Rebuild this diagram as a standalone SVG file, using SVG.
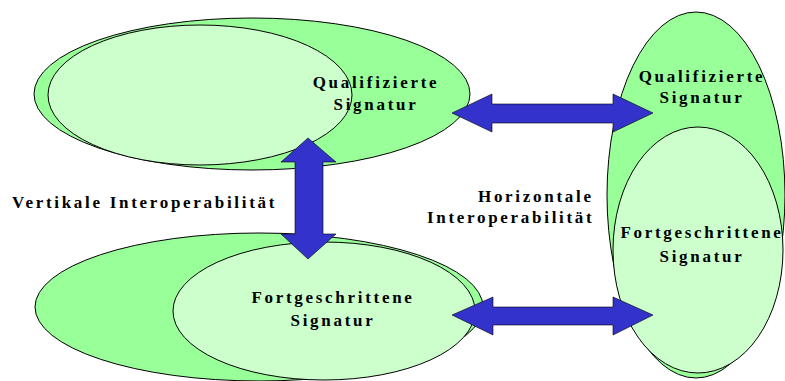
<svg xmlns="http://www.w3.org/2000/svg" width="785" height="381" viewBox="0 0 785 381">
<style>
.outer{fill:#99FF99;stroke:#000;stroke-width:1}
.inner{fill:#CCFFCC;stroke:#000;stroke-width:1}
.arrow{fill:#3333CC;stroke:#000;stroke-width:0.6}
text{font-family:"Liberation Serif","Times New Roman",serif;font-weight:bold;font-size:17px;letter-spacing:2.7px;fill:#000}
.c{text-anchor:middle}
</style>
<rect width="785" height="381" fill="#fff"/>
<g id="qual-left">
<ellipse class="outer" cx="252" cy="94" rx="218" ry="76"/>
<ellipse class="inner" cx="200" cy="95" rx="152" ry="70"/>
<text class="c" x="376" y="88">Qualifizierte</text>
<text class="c" x="376" y="110">Signatur</text>
</g>
<g id="fort-left">
<ellipse class="outer" cx="259" cy="307" rx="224" ry="74"/>
<ellipse class="inner" cx="324" cy="311" rx="151" ry="69"/>
<text class="c" x="333" y="303">Fortgeschrittene</text>
<text class="c" x="333" y="326">Signatur</text>
</g>
<g id="right">
<ellipse class="outer" cx="696" cy="195" rx="89" ry="183"/>
<ellipse class="inner" cx="698" cy="250" rx="85" ry="123"/>
<text class="c" x="702" y="82">Qualifizierte</text>
<text class="c" x="702" y="103">Signatur</text>
<text class="c" x="702" y="238">Fortgeschrittene</text>
<text class="c" x="702" y="262">Signatur</text>
</g>
<g id="label-vertikal">
<text x="12" y="208">Vertikale Interoperabilität</text>
</g>
<g id="label-horizontal">
<text x="478" y="202">Horizontale</text>
<text x="427" y="223">Interoperabilität</text>
</g>
<g id="connectors">
<polygon class="arrow" points="308,138 336,162 323,162 323,234 336,234 308,259 281,234 295,234 295,162 281,162"/>
<polygon class="arrow" points="452,113 492,94 492,104 613,104 613,94 653,113 613,132 613,123 492,123 492,132"/>
<polygon class="arrow" points="452,315 493,297 493,307 613,307 613,297 653,315 613,335 613,325 493,325 493,335"/>
</g>
</svg>
